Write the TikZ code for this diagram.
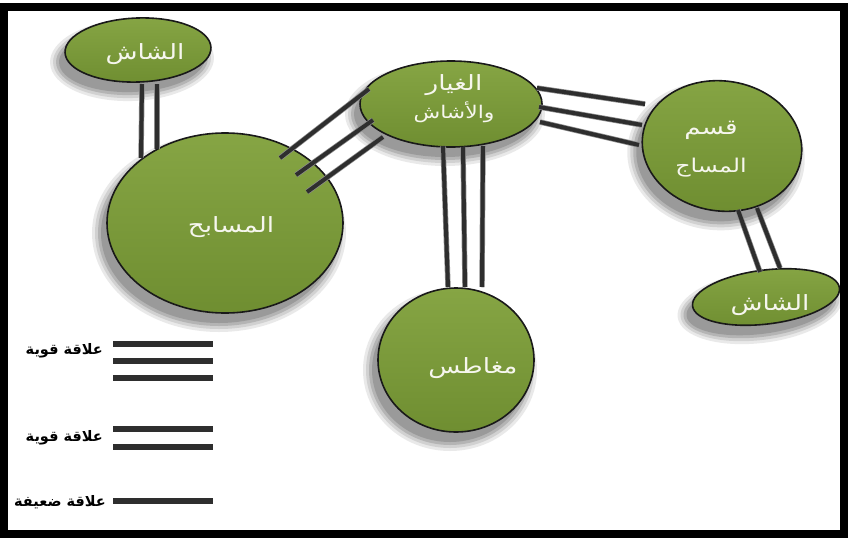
\documentclass[tikz,border=0pt]{standalone}
\usepackage{fontspec}
\usetikzlibrary{shapes.geometric,calc}
\newfontfamily\arabicfont[Script=Arabic]{DejaVu Sans}
\newfontfamily\arabicwide[Script=Arabic,FakeStretch=1.25]{DejaVu Sans}
\TeXXeTstate=1
\definecolor{bubtop}{HTML}{86A544}
\definecolor{bubbot}{HTML}{6F8E31}
\definecolor{shgray}{HTML}{8A8A8A}
\definecolor{linedark}{HTML}{2E2E2E}
\definecolor{lbltext}{HTML}{F6F6EE}
\tikzset{
  bub/.style={ellipse, draw=black!90, line width=1.6pt, top color=bubtop, bottom color=bubbot, inner sep=0pt},
  lbl/.style={text=lbltext, align=center, inner sep=0pt},
  conn/.style={draw=linedark, line width=4pt, preaction={draw=black!45, line width=5.4pt}},
  legline/.style={draw=linedark, line width=5.5pt},
  legtext/.style={font=\arabicfont\bfseries\fontsize{14.5}{16}\selectfont, anchor=east, inner sep=0pt}
}
\newcommand\lblfont[2]{\arabicwide\fontsize{#1}{#2}\selectfont}
\newcommand\bubble[6]{%
  \foreach \g/\op in {9/0.18,6/0.25,3/0.4,0/0.6}{
    \fill[shgray, opacity=\op, rotate around={#6:(#2-6,#3+10)}] (#2-6,#3+10) ellipse [x radius=#4+\g, y radius=#5+\g];
  }
  \node[bub, minimum width={2*#4pt}, minimum height={2*#5pt}, rotate=#6] (#1) at (#2,#3) {};
}
\begin{document}
\begin{tikzpicture}[x=1pt,y=-1pt]
\useasboundingbox (0,0) rectangle (848,538);
\fill[white] (0,0) rectangle (848,538);

% bubbles
\bubble{pools}{225}{223}{118}{90}{0}
\bubble{tl}{138}{50}{73}{32}{2}
\bubble{mid}{451}{104}{91}{43}{0}
\bubble{mass}{722}{146}{80}{65}{-8}
\bubble{br}{766}{297}{74}{27}{7}
\bubble{mag}{456}{360}{78}{72}{0}

% labels
\node[lbl, font=\lblfont{21}{24}] (tl-t) at (145,54) {\beginR الشاش\endR};
\node[lbl, font=\lblfont{21}{24}] (pools-t) at (231,227) {\beginR المسابح\endR};
\node[lbl, font=\lblfont{17.5}{28}] (mid-t) at (454,99) {{\fontsize{21}{28}\selectfont\beginR الغيار\endR}\\\beginR والأشاش\endR};
\node[lbl, font=\lblfont{19}{38}] (mass-t) at (711,149) {{\fontsize{21}{38}\selectfont\beginR قسم\endR}\\\beginR المساج\endR};
\node[lbl, font=\lblfont{21}{24}] (br-t) at (770,305) {\beginR الشاش\endR};
\node[lbl, font=\lblfont{21}{24}] (mag-t) at (473,368) {\beginR مغاطس\endR};

% connectors
\draw[conn] ($(tl)+(4,34)$) -- ($(pools)+(-84,-65)$);
\draw[conn] ($(tl)+(19,34)$) -- ($(pools)+(-68,-74)$);

\draw[conn] ($(pools)+(55,-65)$) -- ($(mid)+(-82,-15)$);
\draw[conn] ($(pools)+(71,-48)$) -- ($(mid)+(-78,16)$);
\draw[conn] ($(pools)+(82,-31)$) -- ($(mid)+(-68,33)$);

\draw[conn] ($(mid)+(86,-16)$) -- ($(mass)+(-77,-42)$);
\draw[conn] ($(mid)+(88,3)$) -- ($(mass)+(-80,-21)$);
\draw[conn] ($(mid)+(89,18)$) -- ($(mass)+(-83,-1)$);

\draw[conn] ($(mid)+(-8,42)$) -- ($(mag)+(-8,-73)$);
\draw[conn] ($(mid)+(12,43)$) -- ($(mag)+(9,-73)$);
\draw[conn] ($(mid)+(32,42)$) -- ($(mag)+(26,-73)$);

\draw[conn] ($(mass)+(16,64)$) -- ($(br)+(-6,-25)$);
\draw[conn] ($(mass)+(35,62)$) -- ($(br)+(14,-29)$);

% legend
\coordinate (g1) at (113,344);
\draw[legline] (g1) -- ++(100,0);
\draw[legline] ($(g1)+(0,17)$) -- ++(100,0);
\draw[legline] ($(g1)+(0,34)$) -- ++(100,0);
\node[legtext] (leg1) at (103,351) {\beginR علاقة قوية\endR};
\coordinate (g2) at (113,429);
\draw[legline] (g2) -- ++(100,0);
\draw[legline] ($(g2)+(0,18)$) -- ++(100,0);
\node[legtext] (leg2) at (103,438) {\beginR علاقة قوية\endR};
\coordinate (g3) at (113,501);
\draw[legline] (g3) -- ++(100,0);
\node[legtext] (leg3) at (106,502) {\beginR علاقة ضعيفة\endR};

% frame
\draw[line width=8pt] (4,6.5) rectangle (844,534);
\end{tikzpicture}
\end{document}
